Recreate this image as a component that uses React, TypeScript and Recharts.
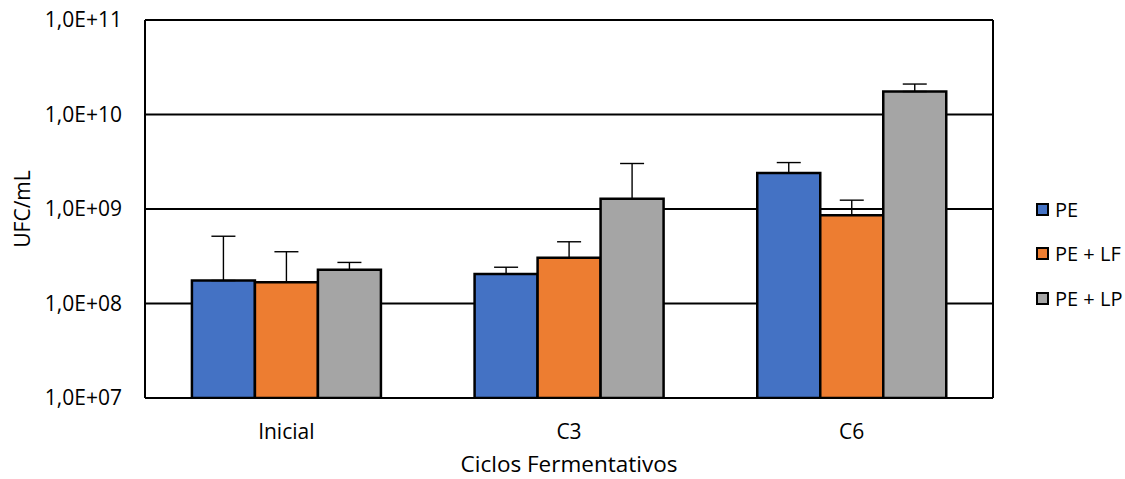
import React from "react";
import {
  BarChart,
  Bar,
  XAxis,
  YAxis,
  CartesianGrid,
  ErrorBar,
  Label,
} from "recharts";

// Fermentation cycles and colony counts (UFC/mL), mean and upper deviation
const categories = ["Inicial", "C3", "C6"];
const peMean = [1.75e8, 2.05e8, 2.4e9];
const peSd = [3.4e8, 0.37e8, 0.7e9];
const lfMean = [1.68e8, 3.05e8, 8.6e8];
const lfSd = [1.85e8, 1.45e8, 3.8e8];
const lpMean = [2.27e8, 1.28e9, 1.75e10];
const lpSd = [0.45e8, 1.75e9, 3.5e9];
const yTicks = [1e7, 1e8, 1e9, 1e10, 1e11];

const seriesInfo = [
  { key: "pe", name: "PE", color: "#4472C4" },
  { key: "lf", name: "PE + LF", color: "#ED7D31" },
  { key: "lp", name: "PE + LP", color: "#A5A5A5" },
];

const data = categories.map((c, i) => ({
  cat: c,
  pe: peMean[i],
  peErr: [0, peSd[i]],
  lf: lfMean[i],
  lfErr: [0, lfSd[i]],
  lp: lpMean[i],
  lpErr: [0, lpSd[i]],
}));

const FONT = "'Open Sans', sans-serif";
const FS = 21;

const sciFormat = (v: number) => {
  const exp = Math.round(Math.log10(v));
  return `1,0E+${String(exp).padStart(2, "0")}`;
};

const LegendBox = () => (
  <div
    style={{
      position: "absolute",
      left: 1036,
      top: 187,
      fontFamily: FONT,
      fontSize: 20,
      color: "#000",
    }}
  >
    {seriesInfo.map((s) => (
      <div
        key={s.key}
        style={{ display: "flex", alignItems: "center", height: 44.5 }}
      >
        <span
          style={{
            display: "inline-block",
            width: 9,
            height: 9,
            background: s.color,
            border: "2.5px solid #000",
            marginRight: 6,
          }}
        />
        <span>{s.name}</span>
      </div>
    ))}
  </div>
);

export default function App() {
  return (
    <div
      style={{
        position: "absolute",
        left: 0,
        top: 0,
        width: 1125,
        height: 479,
        background: "#fff",
      }}
    >
      <BarChart
        width={1125}
        height={479}
        data={data}
        margin={{ top: 20, right: 132, bottom: 0, left: 0 }}
        barGap={0}
        barCategoryGap="16.6%"
      >
        <CartesianGrid
          stroke="#000"
          strokeWidth={2}
          horizontal={true}
          vertical={true}
          verticalCoordinatesGenerator={({ offset }: any) => [
            offset.left,
            offset.left + offset.width,
          ]}
        />
        <XAxis
          dataKey="cat"
          height={81}
          axisLine={{ stroke: "#000", strokeWidth: 2 }}
          tickLine={false}
          tickSize={0}
          tickMargin={26}
          tick={{ fill: "#000", fontSize: FS, fontFamily: FONT }}
        >
          <Label
            value="Ciclos Fermentativos"
            position="insideBottom"
            offset={7}
            style={{ fill: "#000", fontSize: 22.5, fontFamily: FONT }}
          />
        </XAxis>
        <YAxis
          scale="log"
          domain={[1e7, 1e11]}
          ticks={yTicks}
          allowDataOverflow
          width={145}
          axisLine={{ stroke: "#000", strokeWidth: 2 }}
          tickLine={false}
          tickSize={0}
          tickMargin={23}
          tickFormatter={sciFormat}
          tick={{ fill: "#000", fontSize: FS, fontFamily: FONT }}
        >
          <Label
            value="UFC/mL"
            angle={-90}
            position="insideLeft"
            offset={23}
            style={{
              fill: "#000",
              fontSize: FS,
              fontFamily: FONT,
              textAnchor: "middle",
            }}
          />
        </YAxis>
        <Bar
          dataKey="pe"
          name="PE"
          fill="#4472C4"
          stroke="#000"
          strokeWidth={2.5}
          isAnimationActive={false}
        >
          <ErrorBar dataKey="peErr" width={12} stroke="#000" strokeWidth={1.4} />
        </Bar>
        <Bar
          dataKey="lf"
          name="PE + LF"
          fill="#ED7D31"
          stroke="#000"
          strokeWidth={2.5}
          isAnimationActive={false}
        >
          <ErrorBar dataKey="lfErr" width={12} stroke="#000" strokeWidth={1.4} />
        </Bar>
        <Bar
          dataKey="lp"
          name="PE + LP"
          fill="#A5A5A5"
          stroke="#000"
          strokeWidth={2.5}
          isAnimationActive={false}
        >
          <ErrorBar dataKey="lpErr" width={12} stroke="#000" strokeWidth={1.4} />
        </Bar>
      </BarChart>
      <LegendBox />
    </div>
  );
}
